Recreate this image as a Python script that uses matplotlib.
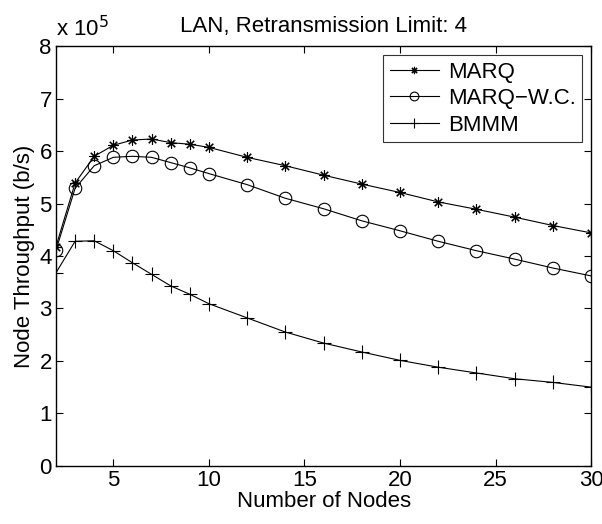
import numpy as np
import matplotlib
matplotlib.use("Agg")
import matplotlib.pyplot as plt
from matplotlib.ticker import FuncFormatter

plt.rcParams['font.family'] = ['Liberation Sans', 'DejaVu Sans']

# Number of nodes
nodes = [2, 3, 4, 5, 6, 7, 8, 9, 10, 12, 14, 16, 18, 20, 22, 24, 26, 28, 30]

# Node throughput (b/s)
marq = [4.18e5, 5.39e5, 5.90e5, 6.11e5, 6.21e5, 6.23e5, 6.16e5, 6.13e5, 6.07e5,
        5.88e5, 5.72e5, 5.54e5, 5.37e5, 5.21e5, 5.03e5, 4.89e5, 4.74e5, 4.58e5, 4.44e5]
marq_wc = [4.11e5, 5.29e5, 5.72e5, 5.88e5, 5.90e5, 5.88e5, 5.78e5, 5.68e5, 5.57e5,
           5.36e5, 5.10e5, 4.90e5, 4.67e5, 4.48e5, 4.28e5, 4.10e5, 3.94e5, 3.77e5, 3.62e5]
bmmm = [3.68e5, 4.28e5, 4.29e5, 4.10e5, 3.87e5, 3.65e5, 3.43e5, 3.27e5, 3.09e5,
        2.82e5, 2.55e5, 2.34e5, 2.17e5, 2.01e5, 1.88e5, 1.77e5, 1.66e5, 1.59e5, 1.50e5]

FS = 16

fig = plt.figure(figsize=(6.02, 5.24), dpi=100)
ax = fig.add_axes([0.093, 0.111, 0.889, 0.801])

ax.plot(nodes, marq, color='black', lw=0.8, marker=(8, 2, 0), ms=7.5, mew=0.8, label='MARQ')
ax.plot(nodes, marq_wc, color='black', lw=0.8, marker='o', ms=9, mfc='none', mew=0.8,
        label='MARQ\u2212W.C.')
ax.plot(nodes, bmmm, color='black', lw=0.8, marker='+', ms=10, mew=0.8, label='BMMM')

ax.set_xlim(2, 30)
ax.set_ylim(0, 8e5)
ax.set_xticks([5, 10, 15, 20, 25, 30])
ax.set_yticks(np.arange(0, 9e5, 1e5))
ax.yaxis.set_major_formatter(FuncFormatter(lambda v, p: f"{v / 1e5:g}"))
ax.tick_params(direction='in', top=True, right=True, length=5, width=0.8,
               labelsize=FS, pad=3)
for s in ax.spines.values():
    s.set_linewidth(1.0)

ax.text(0.0, 1.012, r'x 10$^5$', transform=ax.transAxes, fontsize=FS, ha='left', va='bottom')
ax.set_title('LAN, Retransmission Limit: 4', fontsize=FS, pad=10)
ax.set_xlabel('Number of Nodes', fontsize=FS, labelpad=0)
ax.set_ylabel('Node Throughput (b/s)', fontsize=FS, labelpad=3)

leg = ax.legend(loc='upper right', fontsize=FS, frameon=True, fancybox=False,
                edgecolor='black', handlelength=2.2, handletextpad=0.4,
                borderaxespad=0.4, borderpad=0.3, labelspacing=0.25, markerscale=0.7)
leg.get_frame().set_linewidth(0.8)

fig.savefig('out.png', dpi=100)
